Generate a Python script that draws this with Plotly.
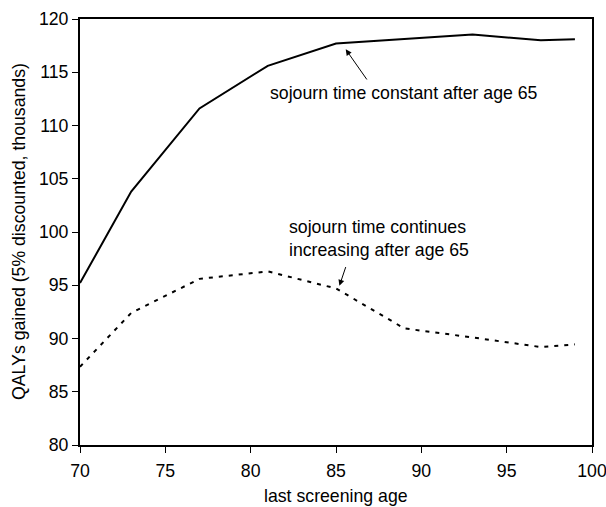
import plotly.graph_objects as go

ages = [70, 73, 77, 81, 85, 89, 93, 97, 99]
constant = [95.2, 103.8, 111.6, 115.6, 117.7, 118.1, 118.55, 118.0, 118.1]
increasing = [87.35, 92.4, 95.6, 96.3, 94.7, 90.95, 90.1, 89.2, 89.45]

x_ticks = [70, 75, 80, 85, 90, 95, 100]
y_ticks = [80, 85, 90, 95, 100, 105, 110, 115, 120]

FONT = "Liberation Sans, Arial, sans-serif"
FS = 17.7

L, R, T, B = 80, 592, 19, 445
W, H = R - L, B - T


def px(xp):
    return (xp - L) / W


def py(yp):
    return (B - yp) / H


fig = go.Figure()
fig.add_trace(go.Scatter(x=ages, y=constant, mode="lines",
                         line=dict(color="black", width=2), showlegend=False))
fig.add_trace(go.Scatter(x=ages, y=increasing, mode="lines",
                         line=dict(color="black", width=2, dash="4px,6px"), showlegend=False))

fig.add_annotation(x=85.57, y=117.15, ax=86.87, ay=114.18, xref="x", yref="y",
                   axref="x", ayref="y", text="", showarrow=True,
                   arrowhead=2, arrowsize=1.2, arrowwidth=1, arrowcolor="black")
fig.add_annotation(x=85.2, y=94.95, ax=85.6, ay=96.85, xref="x", yref="y",
                   axref="x", ayref="y", text="", showarrow=True,
                   arrowhead=2, arrowsize=1.2, arrowwidth=1, arrowcolor="black")

fig.add_annotation(x=px(404), y=py(93), xref="paper", yref="paper",
                   text="sojourn time constant after age 65", showarrow=False,
                   xanchor="center", yanchor="middle",
                   font=dict(family=FONT, size=FS, color="black"))
fig.add_annotation(x=px(287), y=py(238), xref="paper", yref="paper",
                   text="sojourn time continues<br>increasing after age 65", showarrow=False,
                   xanchor="left", yanchor="middle", align="left",
                   font=dict(family=FONT, size=FS, color="black"))

# axis titles
fig.add_annotation(x=px(336), y=py(496), xref="paper", yref="paper",
                   text="last screening age", showarrow=False,
                   xanchor="center", yanchor="middle",
                   font=dict(family=FONT, size=FS, color="black"))
fig.add_annotation(x=px(19), y=py(232), xref="paper", yref="paper",
                   text="QALYs gained (5% discounted, thousands)", showarrow=False,
                   textangle=-90, xanchor="center", yanchor="middle",
                   font=dict(family=FONT, size=FS, color="black"))

axis_common = dict(showgrid=False, zeroline=False, showline=True, linecolor="black",
                   linewidth=2, mirror=True, ticks="outside", ticklen=6, tickwidth=1,
                   tickcolor="black", automargin=False, ticklabeloverflow="allow",
                   tickfont=dict(family=FONT, size=FS, color="black"))

fig.update_xaxes(range=[70, 100], tickvals=x_ticks, ticklabelstandoff=3, **axis_common)
fig.update_yaxes(range=[80, 120], tickvals=y_ticks, **axis_common)

fig.update_layout(width=606, height=507, margin=dict(l=L, r=606 - R, t=T, b=507 - B),
                  plot_bgcolor="white", paper_bgcolor="white")

fig.write_html("out.html")
